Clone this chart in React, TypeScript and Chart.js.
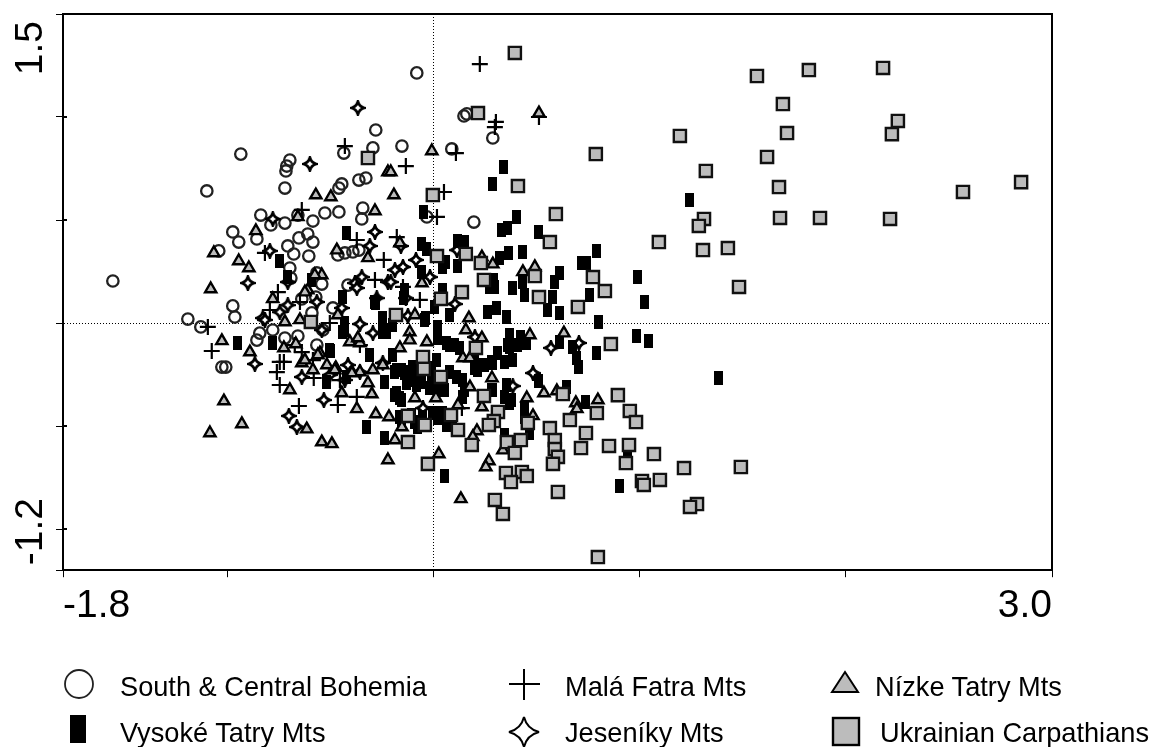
import React, { useEffect, useRef } from "react";
import { Chart, registerables } from "chart.js";

Chart.register(...registerables);

const xMin = -1.8;
const xMax = 3.0;
const yMin = -1.2;
const yMax = 1.5;
const xTickValues = [-1.8, -1, 0, 1, 2, 3];
const yTickValues = [-1.2, -1, -0.5, 0, 0.5, 1, 1.5];
const xTickLabels: Record<string, string> = { "-1.8": "-1.8", "3": "3.0" };
const yTickLabels = [
  { value: 1.5, text: "1.5", align: "right", nudge: 7 },
  { value: -1.2, text: "-1.2", align: "left", nudge: -5 },
];

const bohemia = [
  [-.282,.937],[-.296,.850],[-.437,.825],[-.699,.791],[-.714,.762],[-.718,.738],[-.937,.820],[-1.102,.641],[-.723,.655],[-.447,.675],
  [-.461,.655],[-.364,.694],[-.330,.704],[-1.558,.204],[-1.044,.350],[-.976,.442],[-.947,.393],[-.859,.408],[-.840,.524],[-.791,.476],
  [-.723,.485],[-.660,.524],[-.529,.534],[-.461,.539],[-.587,.495],[-.345,.558],[-.350,.505],[-.612,.432],[-.655,.413],[-.587,.393],
  [-.709,.374],[-.680,.335],[-.607,.325],[-.699,.267],[-.694,.218],[-.568,.243],[-.544,.189],[-.641,.117],[-.573,.126],[-.976,.083],
  [-.966,.029],[-1.194,.019],[-.490,.073],[-.466,.330],[-.432,.340],[-.393,.345],[-.364,.354],[-.417,.184],[-.083,1.214],[-.155,.859],
  [.087,.845],[.146,1.005],[.160,1.015],[.286,.898],[.194,.490],[-.034,.515],[-1.131,-.019],[-1.029,-.214],[-1.010,-.214],[-.845,-.049],
  [-.859,-.083],[-.723,-.073],[-.660,-.063],[-.568,-.107],[-.539,-.034],[-.592,.049],[-.782,-.034],
];

const malaFatra = [
  [.223,1.257],[.301,.976],[.296,.951],[.510,1.000],[.107,.825],[-.136,.762],[.049,.636],[.015,.515],[-.243,.306],[-.374,.403],
  [-.180,.417],[-.150,.175],[-.432,.859],[-.820,.340],[-.641,.549],[-.757,.150],[-1.097,-.019],[-1.078,-.136],[-.728,-.189],[-.762,-.238],
  [-.748,-.301],[-.655,-.403],[-.583,-.267],[-.466,-.398],[-.374,-.359],[-.641,-.141],[-.456,-.277],[-.748,-.189],[-.650,.102],[-.505,0],
  [-.796,.063],[-.675,-.107],[-.587,-.180],[-.359,-.107],[.136,-.413],[-.286,.209],[-.068,.112],
];

const nizkeTatry = [
  [-.573,.621],[-.500,.612],[-.286,.544],[-.864,.447],[-1.068,.340],[-.947,.301],[-.898,.267],[-1.083,.165],[-.320,.316],[-.471,.354],
  [-.660,.515],[-.782,.117],[-.544,.233],[-.612,.160],[-.223,.733],[-.010,.835],[-.209,.733],[-.194,.621],[.510,1.019],[-.058,.194],
  [-.165,.388],[.233,.320],[.286,.286],[.490,.272],[.432,.248],[.170,.024],[-.092,.039],[-1.029,-.087],[-.893,-.141],[-1.019,-.379],
  [-.932,-.490],[-1.087,-.534],[-.699,-.325],[-.617,-.515],[-.544,-.578],[-.495,-.587],[-.374,-.417],[-.282,-.442],[-.447,-.340],[-.320,-.291],
  [-.301,-.345],[-.223,-.665],[-.189,-.568],[-.218,-.456],[-.723,.005],[-.728,-.121],[-.670,-.102],[-.641,-.194],[-.587,-.228],[-.553,-.146],
  [-.519,-.204],[-.476,-.218],[-.408,-.092],[-.359,-.097],[-.398,-.238],[-.359,-.238],[-.296,-.228],[-.248,-.204],[-.155,-.505],[-.117,-.044],
  [-.117,-.083],[-.034,-.092],[-.466,.039],[.155,-.034],[.233,-.073],[-.165,-.121],[.141,-.170],[.175,-.170],[.282,-.267],[.175,-.311],
  [-.092,-.364],[.010,-.364],[.233,-.408],[.117,-.398],[.024,-.636],[.209,-.524],[.189,-.553],[.267,-.670],[.252,-.699],[.131,-.854],
  [.335,-.617],[.451,-.364],[.481,-.451],[.534,-.340],[.597,-.330],[.689,-.388],[.694,-.417],[.796,-.374],[.631,-.049],[.466,-.058],
  [-.626,-.180],[-.563,-.155],[-.481,-.228],[-.398,-.243],[-.369,-.073],[-.626,.150],[-.578,.233],[-.650,.015],
];

const vysokeTatry = [
  [.340,.757],[.286,.675],[.403,.515],[.359,.461],[.330,.451],[.510,.442],[-.049,.539],[-.422,.437],[-.058,.383],[-.034,.359],
  [.117,.398],[.150,.393],[.058,.296],[.044,.272],[.117,.277],[.364,.340],[.320,.316],[.432,.345],[.791,.350],[.718,.291],
  [.743,.291],[.612,.243],[.587,.199],[.432,.199],[.383,.170],[.442,.136],[.578,.126],[.757,.136],[.291,.209],[.272,.175],
  [.296,.175],[.044,.160],[-.058,.248],[-.141,.160],[-.146,.121],[-.282,.097],[-.442,.126],[.005,.078],[.262,.053],[.306,.073],
  [.078,.039],[.553,.063],[.612,.049],[-.039,.024],[.354,.029],[-.748,.301],[-.592,.209],[-.709,.223],[.801,.005],[.981,-.063],
  [1.044,-.087],[.791,-.146],[.019,-.019],[.019,-.073],[.078,-.107],[.126,-.121],[.369,-.058],[.422,-.068],[.451,-.097],[.369,-.117],
  [.383,-.180],[.311,-.146],[.286,-.194],[.223,-.204],[.345,-.189],[.612,-.092],[.675,-.117],[.694,-.170],[.704,-.214],[.510,-.282],
  [.354,-.301],[.345,-.359],[.379,-.374],[.282,-.325],[.442,-.413],[.442,-.456],[.466,-.534],[.345,-.544],[.646,-.311],[.738,-.383],
  [.942,-.631],[.903,-.791],[.053,-.743],[-.238,-.558],[-.238,-.286],[-.199,-.155],[-.189,-.238],[-.141,-.243],[-.131,-.291],[-.102,-.214],
  [-.102,-.277],[-.180,-.340],[-.165,-.364],[-.068,-.286],[-.019,-.316],[.015,-.180],[.039,-.325],[.112,-.262],[.141,-.277],[.141,-.359],
  [.199,-.180],[.214,-.228],[-.053,-.456],[-.005,-.437],[.044,-.437],[-.165,-.456],[-.078,-.505],[.092,-.481],[-.248,.024],[-.248,-.044],
  [-.951,-.097],[-.782,-.097],[-.500,-.136],[-.432,-.034],[-.238,-.034],[-.311,-.155],[-.325,-.505],[-.519,-.286],[-.422,-.262],[-.044,.015],
  [1.379,-.267],[1.243,.597],[.990,.223],[1.024,.102],
  [.019,-.049],[.102,-.107],[.063,-.097],[-.126,-.238],[-.083,-.301],[-.058,-.286],[-.010,-.218],[-.010,-.277],[.019,-.316],[.053,-.325],
  [.150,-.325],[-.189,-.350],[-.155,-.374],[-.107,-.447],[.005,-.437],[.019,-.461],[.063,-.495],[-.155,-.485],[-.092,-.481],[.286,-.325],
  [.369,-.388],[.359,-.107],[.282,-.189],[.408,-.107],[.248,-.204],[.199,-.218],[.078,-.238],[-.432,0],[-.442,-.044],[-.505,-.131],
  [-.228,-.044],[-.199,-.010],[-.286,.102],[-.155,-.228],[-.180,-.228],
];

const jeseniky = [
  [-.369,1.044],[-.602,.772],[-.782,.505],[-.796,.350],[-.286,.442],[-.311,.374],[-.903,.194],[-.350,.223],[-.383,.194],[-.374,.170],
  [-.223,.199],[-.709,.199],[-.568,.102],[-.709,.087],[-.748,.053],[-.447,.073],[-.830,.024],[-.277,.121],[-.160,.374],[-.087,.306],
  [-.150,.272],[-.189,.257],[-.019,.223],[-.209,.199],[-.136,.121],[.102,.092],[.112,.354],[-.126,.034],[-.820,.015],[-.869,-.199],
  [-.704,-.451],[-.665,-.505],[-.534,-.374],[-.641,-.262],[-.417,-.204],[-.359,-.005],[-.296,-.049],[-.544,-.034],[-.248,-.194],[.568,-.121],
  [.704,-.097],[.481,-.243],[.383,-.306],[.199,-.068],[-.053,-.413],[-.432,-.277],[-.359,-.238],[-.505,-.252],
];

const ukrainian = [
  [.393,1.311],[1.568,1.199],[1.820,1.228],[2.180,1.238],[1.694,1.063],[2.252,.981],[1.714,.922],[2.223,.917],[1.617,.806],[.786,.820],
  [1.194,.908],[1.320,.738],[2.850,.684],[2.568,.636],[1.675,.660],[1.680,.510],[1.874,.510],[2.214,.505],[1.311,.505],[1.286,.471],
  [1.427,.364],[1.306,.354],[1.092,.393],[1.481,.175],[.214,1.019],[-.320,.801],[-.005,.621],[.408,.665],[.592,.529],[.563,.393],
  [.015,.325],[.155,.335],[.228,.291],[.243,.209],[.490,.228],[.772,.223],[.830,.155],[.136,.150],[.034,.117],[.510,.126],
  [.699,.078],[-.184,.039],[-.597,.005],[.859,-.102],[.204,-.121],[-.053,-.165],[-.049,-.223],[.034,-.262],[.243,-.354],[.626,-.345],
  [.893,-.350],[.311,-.432],[.291,-.476],[.267,-.495],[-.126,-.451],[.083,-.447],[-.044,-.495],[.117,-.519],[.791,-.437],[.951,-.427],
  [.981,-.481],[.660,-.471],[.456,-.485],[.563,-.510],[.738,-.534],[.184,-.592],[-.126,-.578],[.422,-.568],[.354,-.578],[.393,-.631],
  [.587,-.568],[.587,-.612],[.602,-.650],[.578,-.684],[.714,-.607],[.850,-.597],[.947,-.592],[.932,-.680],[1.068,-.636],[-.029,-.684],
  [.350,-.728],[.427,-.723],[.451,-.743],[.374,-.772],[.602,-.820],[1.010,-.767],[1.019,-.786],[1.097,-.762],[.296,-.859],[.335,-.927],
  [.796,-1.136],[1.214,-.704],[1.490,-.699],[1.277,-.879],[1.243,-.893],
];

const legendRows = [
  { label: "South & Central Bohemia", x: 120, y: 689 },
  { label: "Malá Fatra Mts", x: 565, y: 689 },
  { label: "Nízke Tatry Mts", x: 875, y: 689 },
  { label: "Vysoké Tatry Mts", x: 120, y: 735 },
  { label: "Jeseníky Mts", x: 565, y: 735 },
  { label: "Ukrainian Carpathians", x: 880, y: 735 },
];

const FONT = '"Liberation Sans", Arial, sans-serif';
const starPath = (cx: number, cy: number, r: number, k: number) =>
  `M${cx} ${cy - r}Q${cx + k} ${cy - k} ${cx + r} ${cy}Q${cx + k} ${cy + k} ${cx} ${cy + r}Q${cx - k} ${cy + k} ${cx - r} ${cy}Q${cx - k} ${cy - k} ${cx} ${cy - r}Z`;

function barSprite() {
  const c = document.createElement("canvas");
  c.width = 9;
  c.height = 14;
  const g = c.getContext("2d")!;
  g.fillStyle = "#000";
  g.fillRect(0, 0, 9, 14);
  return c;
}

function starSprite() {
  const c = document.createElement("canvas");
  c.width = 16;
  c.height = 16;
  const g = c.getContext("2d")!;
  const p = new Path2D(starPath(8, 8, 6.3, 1.4));
  g.fillStyle = "#fff";
  g.fill(p);
  g.strokeStyle = "#000";
  g.lineWidth = 2.8;
  g.stroke(p);
  return c;
}

const toPoints = (rows: number[][]) => rows.map(([x, y]) => ({ x, y }));

const framePlugin = {
  id: "frame",
  afterDraw(chart: any) {
    const { ctx, chartArea: a, scales } = chart;
    ctx.save();
    ctx.strokeStyle = "#000";
    ctx.lineWidth = 2;
    ctx.beginPath();
    ctx.moveTo(a.left, a.bottom);
    ctx.lineTo(a.left, a.top);
    ctx.lineTo(a.right, a.top);
    ctx.lineTo(a.right, a.bottom);
    for (const v of yTickValues) {
      const p = scales.y.getPixelForValue(v);
      if (v !== 0 && v !== yMin) {
        ctx.moveTo(a.left, p);
        ctx.lineTo(a.left + 4, p);
      }
    }
    ctx.stroke();
    ctx.fillStyle = "#000";
    ctx.font = `39px ${FONT}`;
    ctx.textBaseline = "alphabetic";
    for (const t of yTickLabels) {
      ctx.save();
      ctx.translate(42, scales.y.getPixelForValue(t.value) + t.nudge);
      ctx.rotate(-Math.PI / 2);
      ctx.textAlign = t.align;
      ctx.fillText(t.text, 0, 0);
      ctx.restore();
    }
    ctx.restore();
  },
};

export default function App() {
  const ref = useRef<HTMLCanvasElement>(null);
  useEffect(() => {
    const bar = barSprite();
    const star = starSprite();
    const grey = "#bcbcbc";
    const chart = new Chart(ref.current!, {
      type: "scatter",
      plugins: [framePlugin],
      data: {
        datasets: [
          { label: "Ukrainian Carpathians", data: toPoints(ukrainian), order: 1, pointStyle: "rect", pointRadius: 8.6, backgroundColor: grey, borderColor: "#111", borderWidth: 2.4 },
          { label: "Vysoké Tatry Mts", data: toPoints(vysokeTatry), order: 3, pointStyle: bar, pointRadius: 5, backgroundColor: "#000", borderColor: "#000" },
          { label: "Nízke Tatry Mts", data: toPoints(nizkeTatry), order: 2, pointStyle: "triangle", pointRadius: 6.5, backgroundColor: grey, borderColor: "#000", borderWidth: 2.4 },
          { label: "Jeseníky Mts", data: toPoints(jeseniky), order: 4, pointStyle: star, pointRadius: 5, backgroundColor: "#fff", borderColor: "#000" },
          { label: "Malá Fatra Mts", data: toPoints(malaFatra), order: 5, pointStyle: "cross", pointRadius: 8, backgroundColor: "#000", borderColor: "#000", borderWidth: 2.2 },
          { label: "South & Central Bohemia", data: toPoints(bohemia), order: 6, pointStyle: "circle", pointRadius: 5.7, backgroundColor: "transparent", borderColor: "#222", borderWidth: 2.3 },
        ],
      },
      options: {
        responsive: false,
        animation: false,
        devicePixelRatio: 1,
        layout: { padding: { top: 14, right: 106, left: 0, bottom: 0 } },
        plugins: { legend: { display: false }, tooltip: { enabled: false } },
        scales: {
          x: {
            type: "linear",
            min: xMin,
            max: xMax,
            afterBuildTicks: (s: any) => { s.ticks = xTickValues.map((value) => ({ value })); },
            afterFit: (s: any) => { s.height = 176.8; },
            border: { color: "#000", width: 2, dash: [1, 2] },
            grid: {
              color: (c: any) => (c.tick && c.tick.value === 0 ? "#000" : "transparent"),
              tickColor: "#000",
              tickLength: 7,
              lineWidth: 1,
            },
            ticks: {
              align: "inner",
              padding: 6,
              maxRotation: 0,
              minRotation: 0,
              autoSkip: false,
              color: "#000",
              font: { family: FONT, size: 39 },
              callback: (v: any) => xTickLabels[String(v)] ?? "",
            },
          },
          y: {
            type: "linear",
            min: yMin,
            max: yMax,
            afterBuildTicks: (s: any) => { s.ticks = yTickValues.map((value) => ({ value })); },
            afterFit: (s: any) => { s.width = 63; },
            border: { color: "#000", width: 2, dash: [1, 2] },
            grid: {
              color: (c: any) => (c.tick && c.tick.value === 0 ? "#000" : "transparent"),
              tickColor: "#000",
              tickLength: 7,
              lineWidth: 1,
            },
            ticks: { display: false },
          },
        },
      },
    });
    return () => chart.destroy();
  }, []);

  return (
    <div style={{ position: "absolute", left: 0, top: 0, width: 1158, height: 747, background: "#fff", overflow: "hidden" }}>
      <canvas ref={ref} width={1158} height={747} style={{ position: "absolute", left: 0, top: 0 }} />
      <svg width={1158} height={747} style={{ position: "absolute", left: 0, top: 0 }}>
        <ellipse cx={79} cy={684} rx={14} ry={14} fill="none" stroke="#222" strokeWidth={1.8} />
        <path d="M524 669V700M509 684H540" stroke="#000" strokeWidth={2} fill="none" />
        <path d="M832 692L845 672L858 692Z" fill="#bcbcbc" stroke="#000" strokeWidth={2} />
        <rect x={70} y={715} width={16} height={28} fill="#000" />
        <path d={starPath(524, 732, 15, 3)} fill="#fff" stroke="#000" strokeWidth={2} />
        <rect x={833} y={718} width={26} height={27} fill="#bcbcbc" stroke="#000" strokeWidth={2.4} />
      </svg>
      {legendRows.map((r) => (
        <span key={r.label} style={{ position: "absolute", left: r.x, top: r.y - 15, lineHeight: "26px", fontFamily: FONT, fontSize: 27.2, color: "#000", whiteSpace: "nowrap" }}>
          {r.label}
        </span>
      ))}
    </div>
  );
}
